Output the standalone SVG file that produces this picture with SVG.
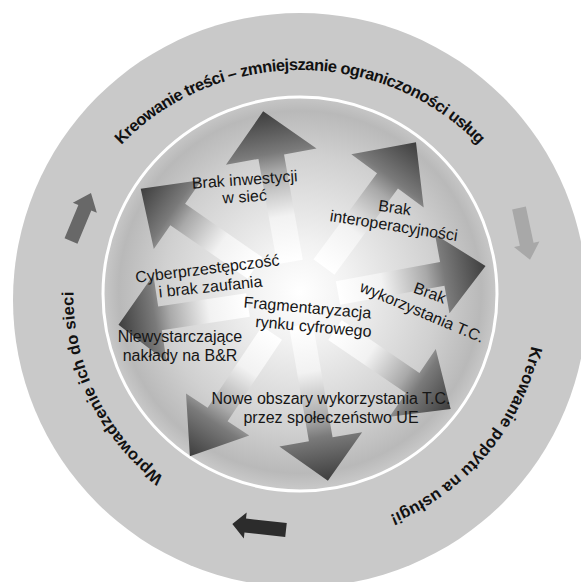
<svg xmlns="http://www.w3.org/2000/svg" width="581" height="582" viewBox="0 0 581 582">
  <defs>
    <radialGradient id="sphereFill" cx="300" cy="292" r="197" gradientUnits="userSpaceOnUse">
      <stop offset="0" stop-color="#ffffff"/>
      <stop offset="0.25" stop-color="#f2f2f2"/>
      <stop offset="0.7" stop-color="#d0d0d0"/>
      <stop offset="0.92" stop-color="#b9b9b9"/>
      <stop offset="1" stop-color="#c8c8c8"/>
    </radialGradient>
    <linearGradient id="rayFill" x1="0" y1="0" x2="1" y2="0">
      <stop offset="0" stop-color="#ffffff"/>
      <stop offset="0.3" stop-color="#f2f2f2"/>
      <stop offset="0.6" stop-color="#a9a9a9"/>
      <stop offset="0.72" stop-color="#7a7a7a"/>
      <stop offset="1" stop-color="#3e3e3e"/>
    </linearGradient>
    <path id="arcTop" d="M 58,300 A 242 230 0 0 1 542,300"/>
    <path id="arcRight" d="M 453,113.7 A 238 238 0 0 1 147,478.3"/>
    <path id="arcLeft" d="M 400.4,501.8 A 229 229 0 0 1 199.6,90.2"/>
  </defs>
  <style>
    .ring-text { font-family: "Liberation Sans", Arial, sans-serif; font-weight: bold; font-size: 16.5px; fill: #111111; }
    .label { font-family: "Liberation Sans", Arial, sans-serif; font-size: 16px; fill: #161616; text-anchor: middle; }
    .ray { fill: url(#rayFill); }
  </style>

  <!-- outer ring -->
  <g id="ring">
    <circle cx="300" cy="300" r="287" fill="#c9c9c9"/>
  </g>

  <!-- ring captions, all running clockwise -->
  <g id="ring-captions">
    <text class="ring-text"><textPath href="#arcTop" startOffset="50%" text-anchor="middle" textLength="398" lengthAdjust="spacing">Kreowanie treści – zmniejszanie ograniczoności usług</textPath></text>
    <text class="ring-text"><textPath href="#arcRight" startOffset="50%" text-anchor="middle" textLength="230" lengthAdjust="spacing">Kreowanie popytu na usługi!</textPath></text>
    <text class="ring-text"><textPath href="#arcLeft" startOffset="50%" text-anchor="middle" textLength="214" lengthAdjust="spacing">Wprowadzenie ich do sieci</textPath></text>
  </g>

  <!-- cycle arrows in the ring -->
  <g id="cycle-arrows">
    <polygon fill="#686868" transform="translate(71,241) rotate(-67.4)" points="0,-7 36,-7 36,-13 52,0 36,13 36,7 0,7"/>
    <polygon fill="#a8a8a8" transform="translate(519,208) rotate(78)" points="0,-7 37,-7 37,-13 53,0 37,13 37,7 0,7"/>
    <polygon fill="#2c2c2c" transform="translate(286,530) rotate(186.3)" points="0,-7 41,-7 41,-13 54,0 41,13 41,7 0,7"/>
  </g>

  <!-- inner sphere -->
  <g id="sphere">
    <circle cx="300" cy="294" r="197" fill="url(#sphereFill)" stroke="#ffffff" stroke-width="3"/>
  </g>

  <!-- radiating arrows -->
  <g id="rays">
    <g id="ray-n"><polygon class="ray" transform="translate(290,262) rotate(-100.1)" points="0,-13 107,-13 107,-46 153,0 107,46 107,13 0,13"/></g>
    <g id="ray-ne"><polygon class="ray" transform="translate(324,267) rotate(-53.6)" points="0,-13 107,-13 107,-45 155,0 107,45 107,13 0,13"/></g>
    <g id="ray-e"><polygon class="ray" transform="translate(338,293) rotate(-10.4)" points="0,-12 106,-12 106,-40 150,0 106,40 106,12 0,12"/></g>
    <g id="ray-se"><polygon class="ray" transform="translate(335,330) rotate(34.3)" points="0,-12 94,-12 94,-41 140,0 94,41 94,12 0,12"/></g>
    <g id="ray-s"><polygon class="ray" transform="translate(301,325) rotate(80.2)" points="0,-12 116,-12 116,-42 158,0 116,42 116,12 0,12"/></g>
    <g id="ray-sw"><polygon class="ray" transform="translate(272,333) rotate(123.7)" points="0,-12 98,-12 98,-38 148,0 98,38 98,12 0,12"/></g>
    <g id="ray-w"><polygon class="ray" transform="translate(248,305) rotate(171.3)" points="0,-12 89,-12 89,-44 131,0 89,44 89,12 0,12"/></g>
    <g id="ray-nw"><polygon class="ray" transform="translate(255,268) rotate(-145.3)" points="0,-13 94,-13 94,-42 139,0 94,42 94,13 0,13"/></g>
  </g>

  <!-- labels -->
  <g id="labels">
    <g id="label-inwestycje">
      <text class="label" x="245" y="185" transform="rotate(-4 245 185)">Brak inwestycji</text>
      <text class="label" x="245" y="202" transform="rotate(-4 245 202)">w sieć</text>
    </g>
    <g id="label-interoperacyjnosc">
      <text class="label" x="394" y="213" transform="rotate(8 394 213)">Brak</text>
      <text class="label" x="393" y="231" transform="rotate(9 393 231)">interoperacyjności</text>
    </g>
    <g id="label-wykorzystanie">
      <text class="label" x="428" y="298" transform="rotate(20 428 298)">Brak</text>
      <text class="label" x="420" y="317" transform="rotate(23 420 317)">wykorzystania T.C.</text>
    </g>
    <g id="label-cyber">
      <text class="label" x="208" y="274" transform="rotate(-7 208 274)">Cyberprzestępczość</text>
      <text class="label" x="211" y="292" transform="rotate(-6 211 292)">i brak zaufania</text>
    </g>
    <g id="label-fragmentaryzacja">
      <text class="label" x="307" y="313" transform="rotate(5 307 313)">Fragmentaryzacja</text>
      <text class="label" x="313" y="332" transform="rotate(5 313 332)">rynku cyfrowego</text>
    </g>
    <g id="label-br">
      <text class="label" x="180" y="342">Niewystarczające</text>
      <text class="label" x="180" y="361">nakłady na B&amp;R</text>
    </g>
    <g id="label-nowe-obszary">
      <text class="label" x="331" y="404">Nowe obszary wykorzystania T.C.</text>
      <text class="label" x="331" y="423">przez społeczeństwo UE</text>
    </g>
  </g>
</svg>
